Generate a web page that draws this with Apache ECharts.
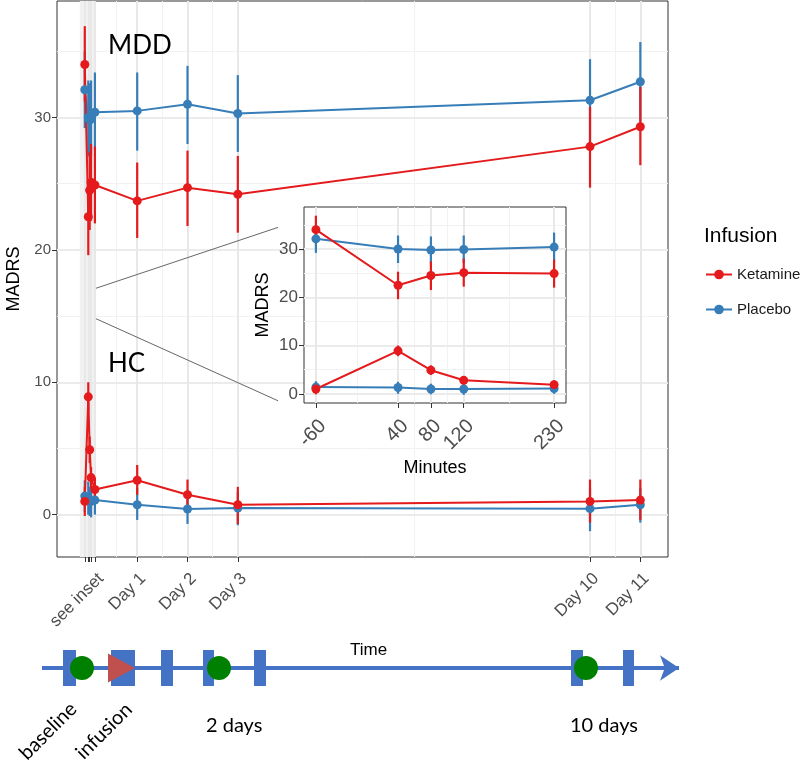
<!DOCTYPE html>
<html>
<head>
<meta charset="utf-8">
<script src="https://cdn.jsdelivr.net/npm/echarts@6/dist/echarts.min.js"></script>
<style>
html, body { margin: 0; padding: 0; background: #fff; }
#chart { width: 800px; height: 763px; }
</style>
</head>
<body>
<div id="chart"></div>
<script>
// time points: inset minutes (relative to infusion) then follow-up days
var insetMinutes = [-60, 40, 80, 120, 230];
var dayPoints = [1, 2, 3, 10, 11];
var dayLabels = ['Day 1', 'Day 2', 'Day 3', 'Day 10', 'Day 11'];
var insetLabel = 'see inset';

// MADRS means and error bar ends (5 inset points, then days 1,2,3,10,11)
var mddKetMean  = [34.0, 22.5, 24.5, 25.1, 24.9, 23.7, 24.7, 24.2, 27.8, 29.3];
var mddKetLow   = [31.2, 19.6, 21.5, 22.2, 22.0, 20.9, 21.8, 21.3, 24.7, 26.4];
var mddKetHigh  = [36.9, 25.3, 27.4, 28.0, 27.8, 26.6, 27.5, 27.1, 30.8, 32.3];
var mddPlaMean  = [32.1, 30.0, 29.8, 29.9, 30.4, 30.5, 31.0, 30.3, 31.3, 32.7];
var mddPlaLow   = [29.2, 27.1, 27.0, 27.1, 27.5, 27.5, 28.0, 27.4, 28.2, 29.7];
var mddPlaHigh  = [35.0, 32.8, 32.6, 32.8, 33.4, 33.4, 33.9, 33.2, 34.4, 35.7];
var hcKetMean   = [1.0, 8.9, 4.9, 2.8, 1.9, 2.6, 1.5, 0.75, 1.0, 1.1];
var hcKetLow    = [-0.1, 7.8, 3.9, 2.0, 1.0, 1.5, 0.35, -0.7, -0.6, -0.4];
var hcKetHigh   = [2.1, 10.0, 5.9, 3.6, 2.8, 3.75, 2.65, 2.1, 2.65, 2.65];
var hcPlaMean   = [1.4, 1.3, 1.0, 1.0, 1.1, 0.75, 0.43, 0.5, 0.45, 0.75];
var hcPlaLow    = [0.2, 0.0, -0.1, -0.2, 0.0, -0.4, -0.7, -0.8, -1.25, -0.6];
var hcPlaHigh   = [2.6, 2.5, 2.1, 2.2, 2.2, 2.0, 1.6, 1.7, 2.0, 2.0];

// axis breaks
var yBreaks = [0, 10, 20, 30];
var yMinor = [5, 15, 25, 35];
var mainMinorX = [0.58, 1.5, 2.5, 6.5, 10.5];
var insetMinorX = [-10, 60, 100, 175];
var insetBand = [-0.14, 0.18];

// zoom connector lines (main plot units)
var zoomUpper = [[0.18, 17.1], [3.8, 21.7]];
var zoomLower = [[0.18, 14.8], [3.8, 8.6]];

// study timeline schematic (timeline units)
var timelineSpan = [42, 679];
var visitBlocks = [[63, 76], [111, 135], [161, 173], [203, 214], [254, 266], [571, 583], [623, 634]];
var ratingVisits = [82, 219, 586];
var infusionAt = [121.5];

var RED = '#E41A1C', BLUE = '#377EB8';
var mainX = insetMinutes.map(function (m) { return m / 1440; }).concat(dayPoints);
var labelValues = [mainX[4]].concat(dayPoints);
var labelTexts = [insetLabel].concat(dayLabels);

function errRender(color) {
    return function (params, api) {
        var a = api.coord([api.value(0), api.value(1)]);
        var b = api.coord([api.value(0), api.value(2)]);
        return {
            type: 'line',
            shape: {x1: a[0], y1: a[1], x2: b[0], y2: b[1]},
            style: {stroke: color, lineWidth: 2.2}
        };
    };
}

function groupSeries(name, color, mean, low, high) {
    var out = [];
    [0, 1].forEach(function (g) {
        var xs = g === 0 ? mainX : insetMinutes;
        var z = g === 0 ? 3 : 8;
        out.push({
            type: 'custom', name: name + ' err', xAxisIndex: g, yAxisIndex: g, z: z,
            renderItem: errRender(color),
            encode: {x: 0, y: [1, 2]},
            data: xs.map(function (x, i) { return [x, low[i], high[i]]; })
        });
        out.push({
            type: 'line', name: name, xAxisIndex: g, yAxisIndex: g, z: z,
            symbol: 'circle', symbolSize: 9, showSymbol: true,
            lineStyle: {color: color, width: 2},
            itemStyle: {color: color},
            data: xs.map(function (x, i) { return [x, mean[i]]; })
        });
    });
    return out;
}

function gridLines(xMajor, xMinor, idx, z) {
    var d = [];
    yMinor.forEach(function (v) { d.push({yAxis: v, lineStyle: {color: '#f2f2f2', width: 1}}); });
    xMinor.forEach(function (v) { d.push({xAxis: v, lineStyle: {color: '#f2f2f2', width: 1}}); });
    yBreaks.forEach(function (v) { d.push({yAxis: v, lineStyle: {color: '#ebebeb', width: 2}}); });
    xMajor.forEach(function (v) { d.push({xAxis: v, lineStyle: {color: '#e8e8e8', width: 2}}); });
    var s = {
        type: 'line', name: 'grid' + idx, xAxisIndex: idx, yAxisIndex: idx, z: z, data: [],
        markLine: {silent: true, z: z, symbol: 'none', label: {show: false}, lineStyle: {type: 'solid'}, data: d}
    };
    if (idx === 0) {
        s.markArea = {silent: true, z: z, itemStyle: {color: '#f1f1f1'},
            data: [[{xAxis: insetBand[0]}, {xAxis: insetBand[1]}]]};
    }
    return s;
}

var tickStyle = {show: true, length: 5, lineStyle: {color: '#333', width: 1}};
var labelStyle = {color: '#4d4d4d', fontFamily: 'Liberation Sans'};
var noLine = {show: false, onZero: false};

var series = [
    gridLines(mainX, mainMinorX, 0, 1),
    gridLines(insetMinutes, insetMinorX, 1, 6),
    {type: 'line', name: 'zoomU', xAxisIndex: 0, yAxisIndex: 0, z: 2, symbol: 'none',
     lineStyle: {color: '#666', width: 1}, data: zoomUpper},
    {type: 'line', name: 'zoomL', xAxisIndex: 0, yAxisIndex: 0, z: 2, symbol: 'none',
     lineStyle: {color: '#666', width: 1}, data: zoomLower}
]
.concat(groupSeries('Placebo', BLUE, mddPlaMean, mddPlaLow, mddPlaHigh))
.concat(groupSeries('Placebo', BLUE, hcPlaMean, hcPlaLow, hcPlaHigh))
.concat(groupSeries('Ketamine', RED, mddKetMean, mddKetLow, mddKetHigh))
.concat(groupSeries('Ketamine', RED, hcKetMean, hcKetLow, hcKetHigh))
.concat([
    {type: 'lines', coordinateSystem: 'cartesian2d', xAxisIndex: 2, yAxisIndex: 2, z: 1,
     symbol: ['none', 'arrow'], symbolSize: 19,
     lineStyle: {color: '#4472C4', width: 4, opacity: 1, curveness: 0},
     data: [{coords: [[timelineSpan[0], 0], [timelineSpan[1], 0]]}]},
    {type: 'custom', xAxisIndex: 2, yAxisIndex: 2, z: 2,
     renderItem: function (params, api) {
         var a = api.coord([api.value(0), 18]);
         var b = api.coord([api.value(1), -18]);
         return {type: 'rect', shape: {x: a[0], y: a[1], width: b[0] - a[0], height: b[1] - a[1]},
                 style: {fill: '#4472C4'}};
     },
     data: visitBlocks},
    {type: 'scatter', xAxisIndex: 2, yAxisIndex: 2, z: 3, symbol: 'circle', symbolSize: 24,
     itemStyle: {color: '#008000', opacity: 1}, data: ratingVisits.map(function (x) { return [x, 0]; })},
    {type: 'scatter', xAxisIndex: 2, yAxisIndex: 2, z: 3, symbol: 'triangle', symbolRotate: -90,
     symbolSize: [29, 27], itemStyle: {color: '#C0504D', opacity: 1}, data: infusionAt.map(function (x) { return [x, 0]; })}
]);

var option = {
    animation: false,
    backgroundColor: '#fff',
    grid: [
        {left: 57, top: 1, width: 611, height: 556, show: true, borderColor: '#333', borderWidth: 1,
         backgroundColor: '#fff', z: 0, outerBoundsMode: 'none', containLabel: false},
        {left: 304, top: 207, width: 262, height: 196, show: true, borderColor: '#333', borderWidth: 1,
         backgroundColor: '#fff', z: 5, outerBoundsMode: 'none', containLabel: false},
        {left: 0, top: 630, width: 800, height: 76, show: false, outerBoundsMode: 'none', containLabel: false}
    ],
    xAxis: [
        {type: 'value', gridIndex: 0, min: -0.594, max: 11.55, axisLine: noLine,
         splitLine: {show: false},
         axisTick: Object.assign({customValues: mainX}, tickStyle),
         axisLabel: Object.assign({customValues: labelValues, rotate: 45, fontSize: 17, margin: 13,
            verticalAlign: 'top',
            formatter: function (v) {
                for (var i = 0; i < labelValues.length; i++) {
                    if (Math.abs(v - labelValues[i]) < 1e-6) return labelTexts[i];
                }
                return '';
            }}, labelStyle)},
        {type: 'value', gridIndex: 1, z: 6, min: -74.5, max: 244.5, axisLine: noLine,
         splitLine: {show: false},
         axisTick: Object.assign({customValues: insetMinutes}, tickStyle),
         axisLabel: Object.assign({customValues: insetMinutes, rotate: 45, fontSize: 20, margin: 13,
            verticalAlign: 'top'}, labelStyle),
         name: 'Minutes', nameLocation: 'middle', nameGap: 56,
         nameTextStyle: {fontSize: 18, color: '#000', fontFamily: 'Liberation Sans'}},
        {type: 'value', gridIndex: 2, min: 0, max: 800, show: false}
    ],
    yAxis: [
        {type: 'value', gridIndex: 0, min: -3.2, max: 38.8, axisLine: noLine,
         splitLine: {show: false},
         axisTick: Object.assign({customValues: yBreaks}, tickStyle),
         axisLabel: Object.assign({customValues: yBreaks, fontSize: 15, margin: 6}, labelStyle),
         name: 'MADRS', nameLocation: 'middle', nameGap: 30,
         nameTextStyle: {fontSize: 18, color: '#000', fontFamily: 'Liberation Sans'}},
        {type: 'value', gridIndex: 1, z: 6, min: -1.9, max: 38.7, axisLine: noLine,
         splitLine: {show: false},
         axisTick: Object.assign({customValues: yBreaks}, tickStyle),
         axisLabel: Object.assign({customValues: yBreaks, fontSize: 17, margin: 6}, labelStyle),
         name: 'MADRS', nameLocation: 'middle', nameGap: 32,
         nameTextStyle: {fontSize: 18, color: '#000', fontFamily: 'Liberation Sans'}},
        {type: 'value', gridIndex: 2, min: -38, max: 38, show: false}
    ],
    legend: {
        data: ['Ketamine', 'Placebo'], orient: 'vertical', left: 700, top: 262,
        itemWidth: 26, itemHeight: 12, itemGap: 20,
        textStyle: {fontSize: 15, color: '#1a1a1a', fontFamily: 'Liberation Sans'}
    },
    graphic: [
        {type: 'text', z: 20, left: 704, top: 226, style: {text: 'Infusion', fontSize: 21, fill: '#000', fontFamily: 'Liberation Sans'}},
        {type: 'text', z: 20, left: 108, top: 33, style: {text: 'MDD', fontSize: 26, fill: '#000', fontFamily: 'Lato'}},
        {type: 'text', z: 20, left: 108, top: 351, style: {text: 'HC', fontSize: 26, fill: '#000', fontFamily: 'Lato'}},
        {type: 'text', z: 20, left: 350, top: 642, style: {text: 'Time', fontSize: 17, fill: '#000', fontFamily: 'Liberation Sans'}},
        {type: 'text', z: 20, left: 206, top: 716, style: {text: '2 days', fontSize: 20, fill: '#000', fontFamily: 'Lato'}},
        {type: 'text', z: 20, left: 570, top: 716, style: {text: '10 days', fontSize: 20, fill: '#000', fontFamily: 'Lato'}},
        {type: 'text', z: 20, x: 48, y: 731, rotation: Math.PI / 4,
         style: {text: 'baseline', fontSize: 20, fill: '#000', fontFamily: 'Lato', align: 'center', verticalAlign: 'middle'}},
        {type: 'text', z: 20, x: 104, y: 731, rotation: Math.PI / 4,
         style: {text: 'infusion', fontSize: 20, fill: '#000', fontFamily: 'Lato', align: 'center', verticalAlign: 'middle'}}
    ],
    series: series
};

var myChart = echarts.init(document.getElementById('chart'));
myChart.setOption(option);
</script>
</body>
</html>
